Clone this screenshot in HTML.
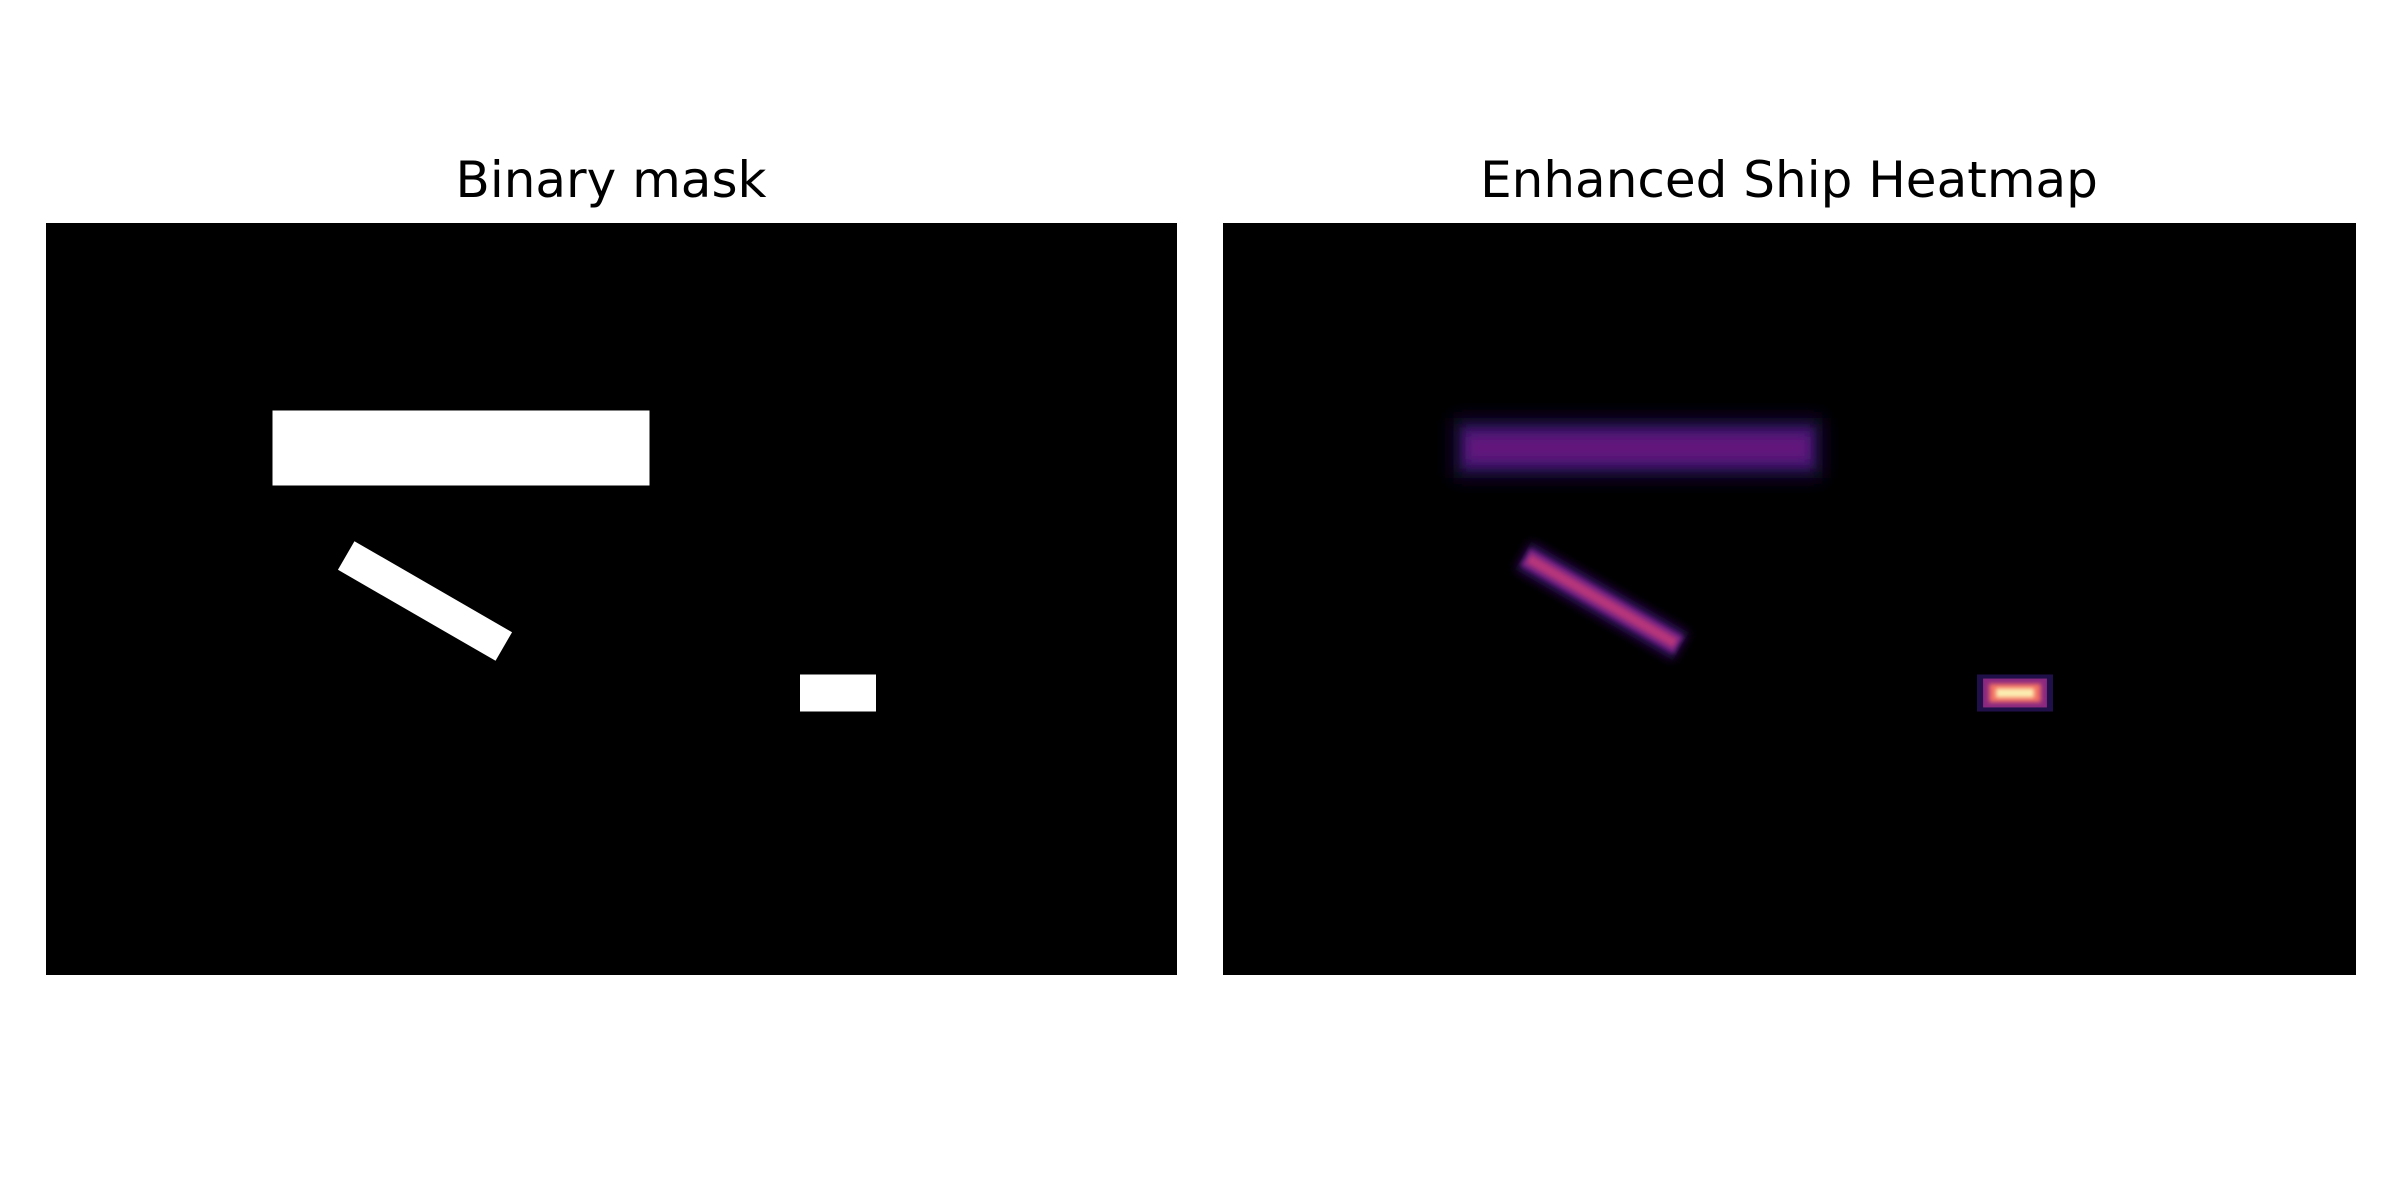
<!DOCTYPE html>
<html><head><meta charset="utf-8"><style>
html,body{margin:0;padding:0;background:#fff;}
svg{display:block;}
text{font-family:"DejaVu Sans","Liberation Sans",sans-serif;}
</style></head><body>
<svg id="fig" width="2400" height="1200" viewBox="0 0 2400 1200" xmlns="http://www.w3.org/2000/svg">
<defs>
<filter id="blurBig" x="-20%" y="-100%" width="140%" height="300%"><feGaussianBlur stdDeviation="9"/></filter>
<filter id="blurMid" x="-30%" y="-60%" width="160%" height="220%"><feGaussianBlur stdDeviation="5"/></filter>
<filter id="blurSm" x="-30%" y="-60%" width="160%" height="220%"><feGaussianBlur stdDeviation="2"/></filter>
</defs>
<text x="611" y="197" font-size="50" text-anchor="middle" fill="#000">Binary mask</text>
<text x="1789" y="197" font-size="50" text-anchor="middle" fill="#000">Enhanced Ship Heatmap</text>
<rect x="46" y="223" width="1131" height="752" fill="#000"/>
<rect x="1223" y="223" width="1133" height="752" fill="#000"/>
<g id="maskG"></g>
<g id="heatG"></g>
</svg>
<script>
// ship data: center x, center y, length, thickness, angle (deg) in panel image coords
const shipNames = ['ship-horizontal','ship-diagonal','ship-small'];
const shipCx = [415, 379, 792];
const shipCy = [225, 378, 470];
const shipLen = [377, 182, 76];
const shipThk = [75, 33, 37];
const shipAngle = [0, 30, 0];

const NS='http://www.w3.org/2000/svg';
const maskOrigin=[46,223], heatOrigin=[1223,223];
const maskG=document.getElementById('maskG'), heatG=document.getElementById('heatG');
function mk(tag,attrs){const e=document.createElementNS(NS,tag);for(const k in attrs)e.setAttribute(k,attrs[k]);return e;}
function magma(t){
  const stops=[[0,[0,0,4]],[0.13,[28,16,68]],[0.25,[79,18,123]],[0.38,[129,37,129]],[0.5,[181,54,122]],[0.63,[229,80,100]],[0.75,[251,135,97]],[0.88,[254,194,135]],[1,[252,253,191]]];
  for(let i=1;i<stops.length;i++){if(t<=stops[i][0]){const a=stops[i-1],b=stops[i];const f=(t-a[0])/(b[0]-a[0]);return 'rgb('+a[1].map((v,j)=>Math.round(v+(b[1][j]-v)*f)).join(',')+')';}}
  return 'rgb(252,253,191)';
}
for(let i=0;i<shipNames.length;i++){
  const cx=maskOrigin[0]+shipCx[i], cy=maskOrigin[1]+shipCy[i];
  const r=mk('rect',{x:cx-shipLen[i]/2,y:cy-shipThk[i]/2,width:shipLen[i],height:shipThk[i],fill:'#fff',transform:'rotate('+shipAngle[i]+' '+cx+' '+cy+')'});
  
  
  maskG.appendChild(r);
  const hx=heatOrigin[0]+shipCx[i], hy=heatOrigin[1]+shipCy[i];
  const g=mk('g',{transform:'rotate('+shipAngle[i]+' '+hx+' '+hy+')'});
  
  
  const L=shipLen[i];
  let layers;
  if(i===2){
    layers=[[1.0,1.0,0.14,null],[0.84,0.78,0.4,null],[0.68,0.5,0.7,'blurSm'],[0.5,0.25,0.97,'blurSm']];
  } else if(i===1){
    layers=[[1.0,0.95,0.18,'blurMid'],[0.97,0.6,0.35,'blurSm'],[0.93,0.3,0.5,'blurSm']];
  } else {
    layers=[[0.98,0.8,0.12,'blurBig'],[0.93,0.55,0.22,'blurMid'],[0.9,0.3,0.3,'blurMid']];
  }
  layers.forEach(([sw,sh,f,flt])=>{
    const w=L*sw, h=shipThk[i]*sh;
    const a={x:hx-w/2,y:hy-h/2,width:w,height:h,fill:magma(f)};
    if(flt)a.filter='url(#'+flt+')';
    g.appendChild(mk('rect',a));
  });
  heatG.appendChild(g);
}
</script>
</body></html>
